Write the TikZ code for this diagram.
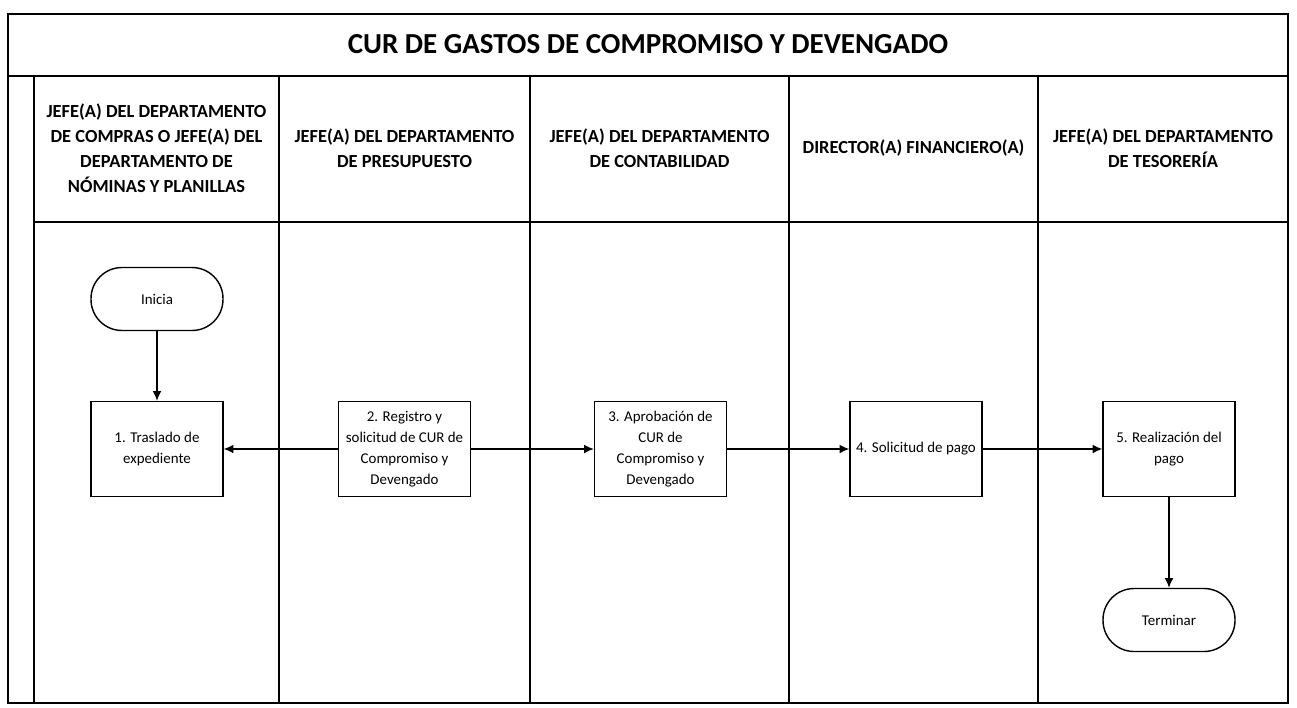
\documentclass[tikz,border=0pt]{standalone}
\usepackage{fontspec}
\setmainfont{Carlito}
\usetikzlibrary{arrows.meta, math}
\tikzset{
  proc/.style={draw, line width=0.8pt, minimum width=2.64cm, minimum height=1.9cm, align=center, inner sep=2pt, font=\fontsize{8.5}{12}\selectfont},
  term/.style={draw, line width=0.8pt, rounded corners=0.62cm, minimum width=2.64cm, minimum height=1.26cm, font=\fontsize{8.5}{12}\selectfont},
  hdr/.style={align=center, font=\fontsize{10.5}{14.2}\selectfont\bfseries},
}
\begin{document}
\begin{tikzpicture}[x=0.02cm, y=-0.02cm, line width=0.8pt]
\tikzmath{
\xl=8;
\xr=1288;
\yt=14;
\yh=76;
\yb=222;
\ye=703;
\yp=449;
}
\useasboundingbox (0,0) rectangle (1297,707);
%frame:
\draw (\xl,\yt) rectangle (\xr,\ye);
\draw (\xl,\yh) -- (\xr,\yh);
\draw (34,\yb) -- (\xr,\yb);
%lanes
\foreach \xd in {34,279,530,789,1038}{
 \draw (\xd,\yh) -- (\xd,\ye);
}
%title
\node[font=\fontsize{16.5}{20}\selectfont\bfseries] (title) at (648,44) {CUR DE GASTOS DE COMPROMISO Y DEVENGADO};
%headers
\node[hdr] (hdrcompras) at (156.5,148) {JEFE(A) DEL DEPARTAMENTO\\DE COMPRAS O JEFE(A) DEL\\DEPARTAMENTO DE\\NÓMINAS Y PLANILLAS};
\node[hdr] (hdrpresup) at (404.5,148) {JEFE(A) DEL DEPARTAMENTO\\DE PRESUPUESTO};
\node[hdr] (hdrconta) at (659.5,148) {JEFE(A) DEL DEPARTAMENTO\\DE CONTABILIDAD};
\node[hdr] (hdrdir) at (913.5,148) {DIRECTOR(A) FINANCIERO(A)};
\node[hdr] (hdrteso) at (1163,148) {JEFE(A) DEL DEPARTAMENTO\\DE TESORERÍA};
%steps
\node[term] (inicia) at (157,299) {Inicia};
\node[proc] (traslado) at (157,\yp) {1. Traslado de\\expediente};
\node[proc] (registro) at (404.5,\yp) {2. Registro y\\solicitud de CUR de\\Compromiso y\\Devengado};
\node[proc] (aprobacion) at (660.5,\yp) {3. Aprobación de\\CUR de\\Compromiso y\\Devengado};
\node[proc] (solicitud) at (916,\yp) {4. Solicitud de pago};
\node[proc] (pago) at (1169,\yp) {5. Realización del\\pago};
\node[term] (terminar) at (1169,620) {Terminar};
%arrows
\draw[-{Latex[length=5.5pt,width=5pt]}] (inicia) -- (traslado);
\draw[-{Latex[length=5.5pt,width=5pt]}] (registro) -- (traslado);
\draw[-{Latex[length=5.5pt,width=5pt]}] (registro) -- (aprobacion);
\draw[-{Latex[length=5.5pt,width=5pt]}] (aprobacion) -- (solicitud);
\draw[-{Latex[length=5.5pt,width=5pt]}] (solicitud) -- (pago);
\draw[-{Latex[length=5.5pt,width=5pt]}] (pago) -- (terminar);
\end{tikzpicture}
\end{document}
